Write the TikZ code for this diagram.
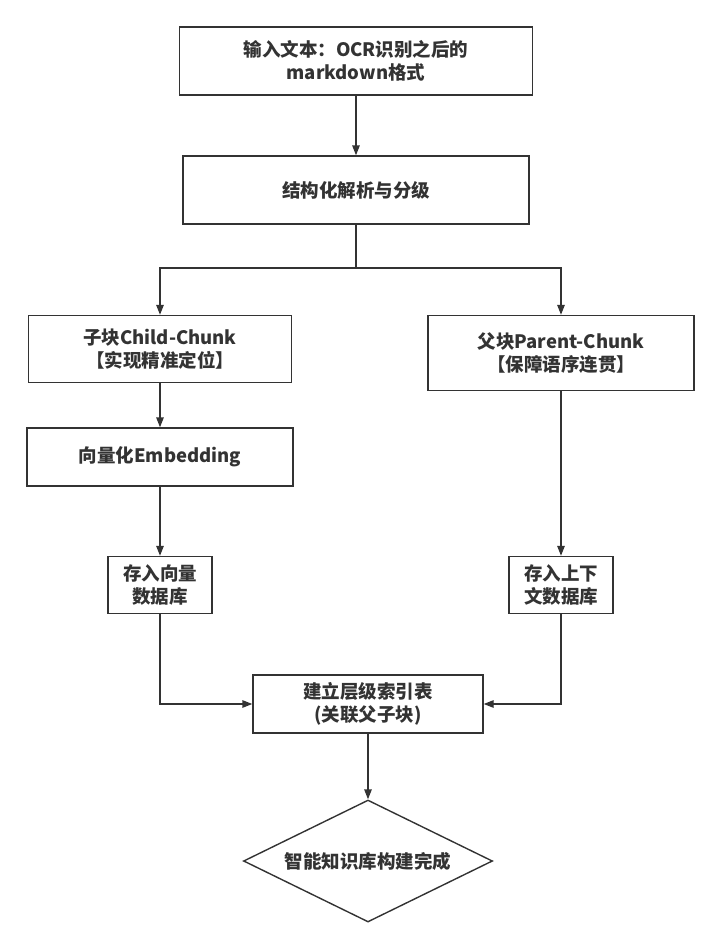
\documentclass[tikz,border=0pt]{standalone}
\usepackage{fontspec}
\setmainfont{Noto Sans CJK SC}
\usepackage{tikz}
\usetikzlibrary{arrows.meta,shapes.geometric,positioning}
\definecolor{ink}{HTML}{333333}
\tikzset{
    process/.style={
    rectangle,draw=ink,line width=1.4pt,text=ink,inner sep=0pt,
    align=center,font=\fontsize{18.5}{23}\selectfont\bfseries
    },
    decision/.style={
    diamond,draw=ink,line width=1.4pt,text=ink,inner sep=0pt,aspect=2,
    align=center,font=\fontsize{18.5}{23}\selectfont\bfseries
    },
    flow/.style={
    draw=ink,line width=1.4pt,-{Triangle[length=10pt,width=7.5pt]}
    },
}
\begin{document}
\begin{tikzpicture}[x=1pt,y=-1pt]
   \useasboundingbox (0,0) rectangle (720,948);
   \node[process,minimum width=353,minimum height=68] (IN) at (356,61) {输入文本：OCR识别之后的\\markdown格式};
   \node[process,minimum width=346,minimum height=68] (STRUCT) at (356,190) {结构化解析与分级};
   \coordinate (SPLIT) at (356,268);
   \node[process,minimum width=263,minimum height=67] (CHILD) at (160,349) {子块Child-Chunk\\【实现精准定位】};
   \node[process,minimum width=266,minimum height=75] (PARENT) at (561,353) {父块Parent-Chunk\\【保障语序连贯】};
   \node[process,minimum width=266,minimum height=58] (EMB) at (160,457) {向量化Embedding};
   \node[process,minimum width=104,minimum height=57] (VSTORE) at (160,585) {存入向量\\数据库};
   \node[process,minimum width=104,minimum height=57] (CSTORE) at (561,585) {存入上下\\文数据库};
   \node[process,minimum width=230,minimum height=58] (INDEX) at (368,704) {建立层级索引表\\(关联父子块)};
   \node[decision,minimum width=249,minimum height=122] (DONE) at (368,861) {智能知识库构建完成};

  \draw[flow] (IN) -- (STRUCT);
  \draw[flow] (STRUCT) -- (SPLIT) -| (CHILD);
  \draw[flow] (SPLIT) -| (PARENT);
  \draw[flow] (CHILD) -- (EMB);
  \draw[flow] (EMB) -- (VSTORE);
  \draw[flow] (PARENT) -- (CSTORE);
  \draw[flow] (VSTORE) |- (INDEX);
  \draw[flow] (CSTORE) |- (INDEX);
  \draw[flow] (INDEX) -- (DONE);
\end{tikzpicture}
\end{document}
